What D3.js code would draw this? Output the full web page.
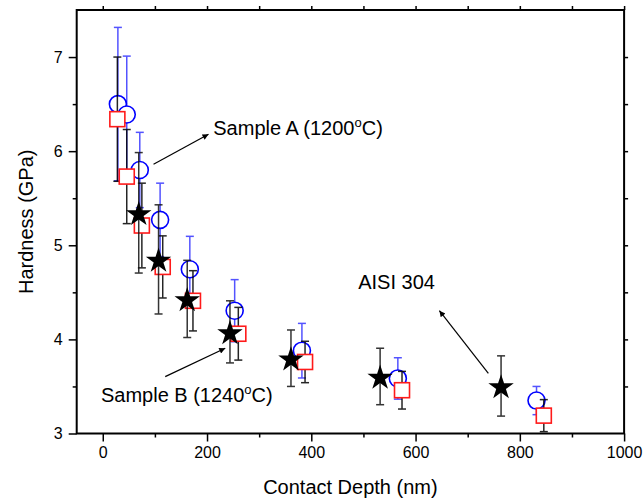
<!DOCTYPE html>
<html>
<head>
<meta charset="utf-8">
<script src="https://cdn.jsdelivr.net/npm/d3@7"></script>
<style>
  html, body { margin: 0; padding: 0; background: #fff; }
  svg { display: block; font-family: Arial, "Liberation Sans", Helvetica, sans-serif; }
</style>
</head>
<body>
<svg id="chart" width="643" height="500"></svg>
<script>
// ---- data ----
const circleX   = [29, 46, 71, 110, 167, 253, 382, 566, 832];
const circleY   = [6.50, 6.39, 5.80, 5.27, 4.745, 4.305, 3.88, 3.585, 3.35];
const circleErr = [0.815, 0.62, 0.40, 0.39, 0.35, 0.33, 0.29, 0.22, 0.15];

const squareX   = [28, 46, 75, 115, 173, 260, 388, 574, 846];
const squareY   = [6.34, 5.73, 5.21, 4.77, 4.41, 4.06, 3.76, 3.46, 3.19];
const squareErr = [0.66, 0.50, 0.45, 0.33, 0.32, 0.28, 0.22, 0.20, 0.17];

const starX   = [69, 107, 162, 244, 361, 532, 764];
const starY   = [5.345, 4.85, 4.43, 4.08, 3.80, 3.606, 3.505];
const starErr = [0.64, 0.58, 0.41, 0.33, 0.30, 0.30, 0.32];

const xTicks = [0, 200, 400, 600, 800, 1000];
const xMinor = [-50, 100, 300, 500, 700, 900];
const yTicks = [3, 4, 5, 6, 7];
const yMinor = [3.5, 4.5, 5.5, 6.5, 7.5];

const xTitle = "Contact Depth (nm)";
const yTitle = "Hardness (GPa)";

// annotations (data units): text anchor + arrow from -> to
const annoText   = [["Sample A (1200", "C)"], ["Sample B (1240", "C)"], ["AISI 304", null]];
const annoTextX  = [212, -3.5, 490];
const annoTextY  = [6.172, 3.338, 4.532];
const arrowFromX = [97.4, 119.8, 739.6];
const arrowFromY = [5.861, 3.604, 3.64];
const arrowToX   = [202.8, 234.9, 645.7];
const arrowToY   = [6.18, 3.906, 4.305];

// ---- chart ----
const svg = d3.select("#chart");
const L = 76.7, R = 624.1, T = 10, B = 433.5;
const x = d3.scaleLinear().domain([-50, 1000]).range([L, R]);
const y = d3.scaleLinear().domain([3, 7.5]).range([B, T]);

const axisG = svg.append("g");
// bottom axis
const bAx = d3.axisBottom(x).tickValues(xTicks).tickSize(8).tickPadding(5).tickFormat(d3.format("d"));
axisG.append("g").attr("transform", `translate(0,${B})`).call(bAx);
axisG.append("g").attr("transform", `translate(0,${B})`)
  .call(d3.axisBottom(x).tickValues(xMinor.filter(v => v > -50)).tickSize(4).tickFormat(""));
// left axis
const lAx = d3.axisLeft(y).tickValues(yTicks).tickSize(8).tickPadding(6).tickFormat(d3.format("d"));
axisG.append("g").attr("transform", `translate(${L},0)`).call(lAx);
axisG.append("g").attr("transform", `translate(${L},0)`)
  .call(d3.axisLeft(y).tickValues(yMinor.filter(v => v < 7.5)).tickSize(4).tickFormat(""));
// top axis
axisG.append("g").attr("transform", `translate(0,${T})`)
  .call(d3.axisTop(x).tickValues(xTicks.concat(xMinor.filter(v => v > -50))).tickSize(4).tickFormat(""));
// right axis
axisG.append("g").attr("transform", `translate(${R},0)`)
  .call(d3.axisRight(y).tickValues(yTicks.concat(yMinor).filter(v => v > 3 && v < 7.5)).tickSize(4).tickFormat(""));

axisG.selectAll(".domain").remove();
axisG.selectAll(".tick line").attr("stroke", "#000").attr("stroke-width", 1.5);
axisG.selectAll(".tick text").attr("font-size", 16).attr("fill", "#000")
  .attr("font-family", "Arial, 'Liberation Sans', sans-serif");

svg.append("rect").attr("x", L).attr("y", T).attr("width", R - L).attr("height", B - T)
  .attr("fill", "none").attr("stroke", "#000").attr("stroke-width", 2);

// titles
svg.append("text").attr("x", x(475)).attr("y", 494).attr("text-anchor", "middle")
  .attr("font-size", 20).text(xTitle);
svg.append("text").attr("transform", `translate(33,${y(5.25)}) rotate(-90)`)
  .attr("text-anchor", "middle").attr("font-size", 20).text(yTitle);

// error bar helper
function errorBars(xs, ys, es, color, opacity) {
  const g = svg.append("g").attr("stroke", color).attr("stroke-width", 1.5).attr("opacity", opacity).attr("fill", "none");
  const cap = 4;
  xs.forEach((xv, i) => {
    const cx = x(xv), y1 = y(ys[i] + es[i]), y2 = y(ys[i] - es[i]);
    g.append("line").attr("x1", cx).attr("x2", cx).attr("y1", y1).attr("y2", y2);
    g.append("line").attr("x1", cx - cap).attr("x2", cx + cap).attr("y1", y1).attr("y2", y1);
    g.append("line").attr("x1", cx - cap).attr("x2", cx + cap).attr("y1", y2).attr("y2", y2);
  });
}

// circles
errorBars(circleX, circleY, circleErr, "#1a1aff", 0.75);
svg.append("g").selectAll("circle").data(circleX).join("circle")
  .attr("cx", d => x(d)).attr("cy", (d, i) => y(circleY[i])).attr("r", 8.5)
  .attr("fill", "#fff").attr("stroke", "#0000ff").attr("stroke-width", 1.6);

// squares
errorBars(squareX, squareY, squareErr, "#000", 0.85);
const sq = 15;
svg.append("g").selectAll("rect").data(squareX).join("rect")
  .attr("x", d => x(d) - sq / 2).attr("y", (d, i) => y(squareY[i]) - sq / 2)
  .attr("width", sq).attr("height", sq)
  .attr("fill", "#fff").attr("stroke", "#ff1a1a").attr("stroke-width", 1.6);

// stars
errorBars(starX, starY, starErr, "#111", 0.85);
const starPath = d3.symbol().type(d3.symbolStar).size(200)();
svg.append("g").selectAll("path").data(starX).join("path")
  .attr("d", starPath)
  .attr("transform", (d, i) => `translate(${x(d)},${y(starY[i]) + 1.5})`)
  .attr("fill", "#000");

// arrows
svg.append("defs").append("marker").attr("id", "ah")
  .attr("viewBox", "0 0 10 10").attr("refX", 10).attr("refY", 5)
  .attr("markerWidth", 9).attr("markerHeight", 6).attr("markerUnits", "userSpaceOnUse")
  .attr("orient", "auto")
  .append("path").attr("d", "M0,0 L10,5 L0,10 Z").attr("fill", "#000");

arrowFromX.forEach((fx, i) => {
  svg.append("line")
    .attr("x1", x(fx)).attr("y1", y(arrowFromY[i]))
    .attr("x2", x(arrowToX[i])).attr("y2", y(arrowToY[i]))
    .attr("stroke", "#000").attr("stroke-width", 1.2).attr("marker-end", "url(#ah)");
});

// annotation text
annoText.forEach((parts, i) => {
  const t = svg.append("text").attr("x", x(annoTextX[i])).attr("y", y(annoTextY[i]))
    .attr("font-size", 20).attr("fill", "#000");
  t.append("tspan").text(parts[0]);
  if (parts[1] !== null) {
    t.append("tspan").attr("font-size", 13).attr("dy", -8).text("o");
    t.append("tspan").attr("dy", 8).text(parts[1]);
  }
});
</script>
</body>
</html>
